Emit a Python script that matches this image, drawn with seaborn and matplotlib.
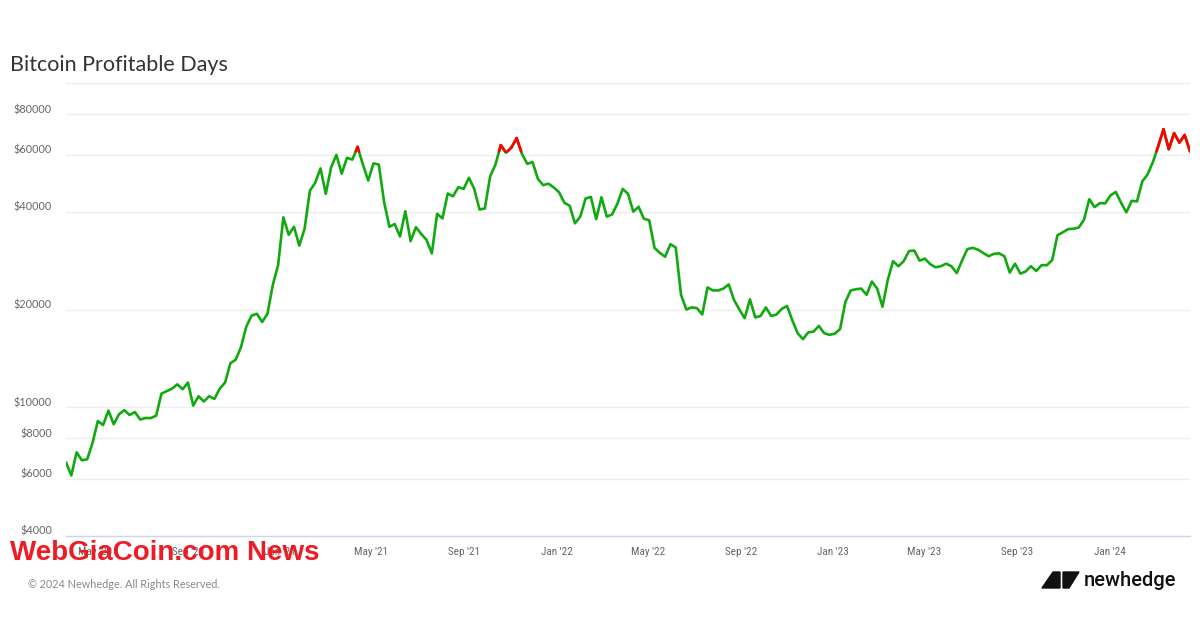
import numpy as np
import pandas as pd
import matplotlib
matplotlib.use("Agg")
import matplotlib.pyplot as plt
import matplotlib.dates as mdates
from matplotlib.ticker import NullLocator, FixedLocator
from matplotlib.collections import LineCollection
from matplotlib.patches import Polygon
from matplotlib import font_manager as fm
from matplotlib.transforms import offset_copy
import seaborn as sns

# ---------------- data (weekly samples) ----------------
START_DATE = "2020-03-24"
price_2020 = [6750, 6150, 7250, 6850, 6900, 7750, 9050, 8800, 9750, 8850,
              9500, 9780, 9450, 9650, 9150, 9250, 9250, 9400, 11000, 11200,
              11400, 11750, 11350, 11900, 10100, 10800, 10400, 10800, 10600, 11400,
              11900, 13650, 14000, 15300, 17700, 19150, 19400, 18300, 19400, 23800,
              27400]
price_2021 = [38500, 34000, 36000, 31500, 35500, 46500, 49200, 54500, 45500, 54900,
              60000, 52500, 58800, 58000, 63500, 56000, 50000, 56500, 56000, 42900,
              36000, 36700, 33600, 40200, 32500, 35900, 34200, 32800, 29800, 39500,
              38200, 45600, 44700, 47700, 47100, 51000, 47100, 40700, 41000, 51500,
              56000, 64300, 60900, 63200, 67600, 60400, 56300, 57000, 50600, 48400,
              48900, 47600]
price_2022 = [46000, 42700, 41800, 36900, 38700, 44000, 44500, 38000, 44400, 38700,
              39300, 42400, 47100, 45500, 40100, 41500, 38100, 37700, 31000, 29900,
              29100, 31800, 31100, 22200, 20000, 20300, 20200, 19300, 23400, 22900,
              22900, 23200, 23900, 21400, 20000, 18800, 21500, 18900, 19100, 20300,
              19100, 19300, 20100, 20500, 18500, 16900, 16200, 17000, 17100, 17800,
              16900, 16700]
price_2023 = [16850, 17400, 21100, 22900, 23100, 23200, 22200, 24400, 23200, 20400,
              24700, 28200, 27200, 28200, 30300, 30400, 28300, 28700, 27600, 27000,
              27200, 27700, 27200, 25900, 28300, 30700, 31000, 30600, 29900, 29200,
              29700, 29800, 29200, 26000, 27700, 25800, 26200, 27200, 26300, 27400,
              27400, 28400, 33900, 34600, 35400, 35500, 35800, 37800, 43800, 41400,
              42600, 42500]
price_2024 = [45000, 46100, 42700, 39900, 43300, 43100, 49700, 52200, 57000, 63800,
              72000, 62500, 70000, 65500, 69100, 61500]

y_ticks = [4000, 6000, 8000, 10000, 20000, 40000, 60000, 80000, 100000]
y_labels = ["$4000", "$6000", "$8000", "$10000", "$20000", "$40000", "$60000", "$80000", ""]

TITLE = "Bitcoin Profitable Days"
FOOTER = "\u00a9 2024 Newhedge. All Rights Reserved."
BRAND = "newhedge"
WATERMARK = "WebGiaCoin.com News"

GREEN = "#10aa10"
RED = "#ff0000"

prices = np.array(price_2020 + price_2021 + price_2022 + price_2023 + price_2024, dtype=float)
dates = pd.date_range(START_DATE, periods=len(prices), freq="7D")
df = pd.DataFrame({"date": dates, "price": prices})


def pick(cands):
    for c in cands:
        try:
            fm.findfont(fm.FontProperties(family=c), fallback_to_default=False)
            return c
        except Exception:
            continue
    return "DejaVu Sans"


sns.set_theme(style="white")
base_font = pick(["Lato", "Open Sans", "DejaVu Sans"])
narrow_font = pick(["Liberation Sans Narrow", "Roboto Condensed", "Roboto", "DejaVu Sans"])
plt.rcParams["font.family"] = [base_font, "DejaVu Sans"]

W, H = 1200, 630
fig = plt.figure(figsize=(W / 100, H / 100), dpi=100)
fig.patch.set_facecolor("white")
ax = fig.add_axes([66 / W, 1 - 536 / H, (1190 - 66) / W, (536 - 83) / H])
ax.set_facecolor("white")

sns.lineplot(data=df, x="date", y="price", ax=ax, color=GREEN, linewidth=1.9,
             estimator=None, legend=False, zorder=3)

# red where the price was above the latest price (unprofitable days)
thr = prices[-1]
xn = mdates.date2num(df["date"].dt.to_pydatetime())
lp = np.log(prices)
lt = np.log(thr)
segs = []
for i in range(len(prices) - 1):
    a, b = lp[i] > lt, lp[i + 1] > lt
    if a and b:
        segs.append([(xn[i], prices[i]), (xn[i + 1], prices[i + 1])])
    elif a or b:
        f = (lt - lp[i]) / (lp[i + 1] - lp[i])
        xc = xn[i] + f * (xn[i + 1] - xn[i])
        if a:
            segs.append([(xn[i], prices[i]), (xc, thr)])
        else:
            segs.append([(xc, thr), (xn[i + 1], prices[i + 1])])
lc = LineCollection(segs, colors=RED, linewidths=1.9, zorder=4, capstyle="round")
ax.add_collection(lc)

ax.set_yscale("log")
ax.set_ylim(y_ticks[0], y_ticks[-1])
ax.set_xlim(df["date"].iloc[0], df["date"].iloc[-1])
ax.yaxis.set_major_locator(FixedLocator(y_ticks))
ax.yaxis.set_minor_locator(NullLocator())
ax.set_yticklabels([])
ax.tick_params(axis="y", length=0)
ax.grid(axis="y", color="#ededed", linewidth=1)
ax.grid(axis="x", visible=False)

ax.xaxis.set_major_locator(mdates.MonthLocator(bymonth=[1, 5, 9]))
ax.xaxis.set_major_formatter(mdates.DateFormatter("%b '%y"))
ax.xaxis.set_minor_locator(NullLocator())
ax.tick_params(axis="x", length=7, width=1, color="#ccd6eb", direction="out",
               labelcolor="#666666", labelsize=8, pad=1)
for lbl in ax.get_xticklabels():
    lbl.set_fontfamily([narrow_font, "DejaVu Sans"])
ax.set_xlabel("")
ax.set_ylabel("")

for s in ["left", "top", "right"]:
    ax.spines[s].set_visible(False)
ax.spines["bottom"].set_color("#ccd6eb")
ax.spines["bottom"].set_linewidth(1)

# y labels sitting just above their grid lines
ytrans = offset_copy(ax.get_yaxis_transform(), fig=fig, x=-14, y=-1, units="dots")
for v, s in zip(y_ticks, y_labels):
    if s:
        ax.text(0, v, s, transform=ytrans, ha="right", va="bottom",
                fontsize=7.8, color="#666666", clip_on=False)

# texts
fig.text(10 / W, 1 - 65 / H, TITLE, fontsize=15.5, color="#333333", va="center", ha="left")
fig.text(28 / W, 1 - 584 / H, FOOTER, fontsize=7.8, color="#888888", va="center", ha="left")
fig.text(1084 / W, 1 - 580 / H, BRAND, fontsize=14.5, color="#111111", va="center", ha="left",
         fontfamily=[pick(["Roboto", "Lato", "DejaVu Sans"]), "DejaVu Sans"], fontweight="medium")

# brand mark
def px(pts):
    return [(x / W, 1 - y / H) for x, y in pts]

fig.patches.append(Polygon(px([(1042, 588), (1053, 572), (1060, 572), (1060, 588)]),
                           closed=True, transform=fig.transFigure, color="#111111"))
fig.patches.append(Polygon(px([(1063, 572), (1079, 572), (1069, 588), (1063, 588)]),
                           closed=True, transform=fig.transFigure, color="#111111"))

# overlaid watermark
fig.text(10 / W, 1 - 560 / H, WATERMARK, fontsize=20, fontweight="bold", color="#f01a22",
         va="baseline", ha="left", fontfamily=[pick(["Liberation Sans", "DejaVu Sans"]), "DejaVu Sans"],
         zorder=10)

fig.savefig("out.png", dpi=100, facecolor="white")
